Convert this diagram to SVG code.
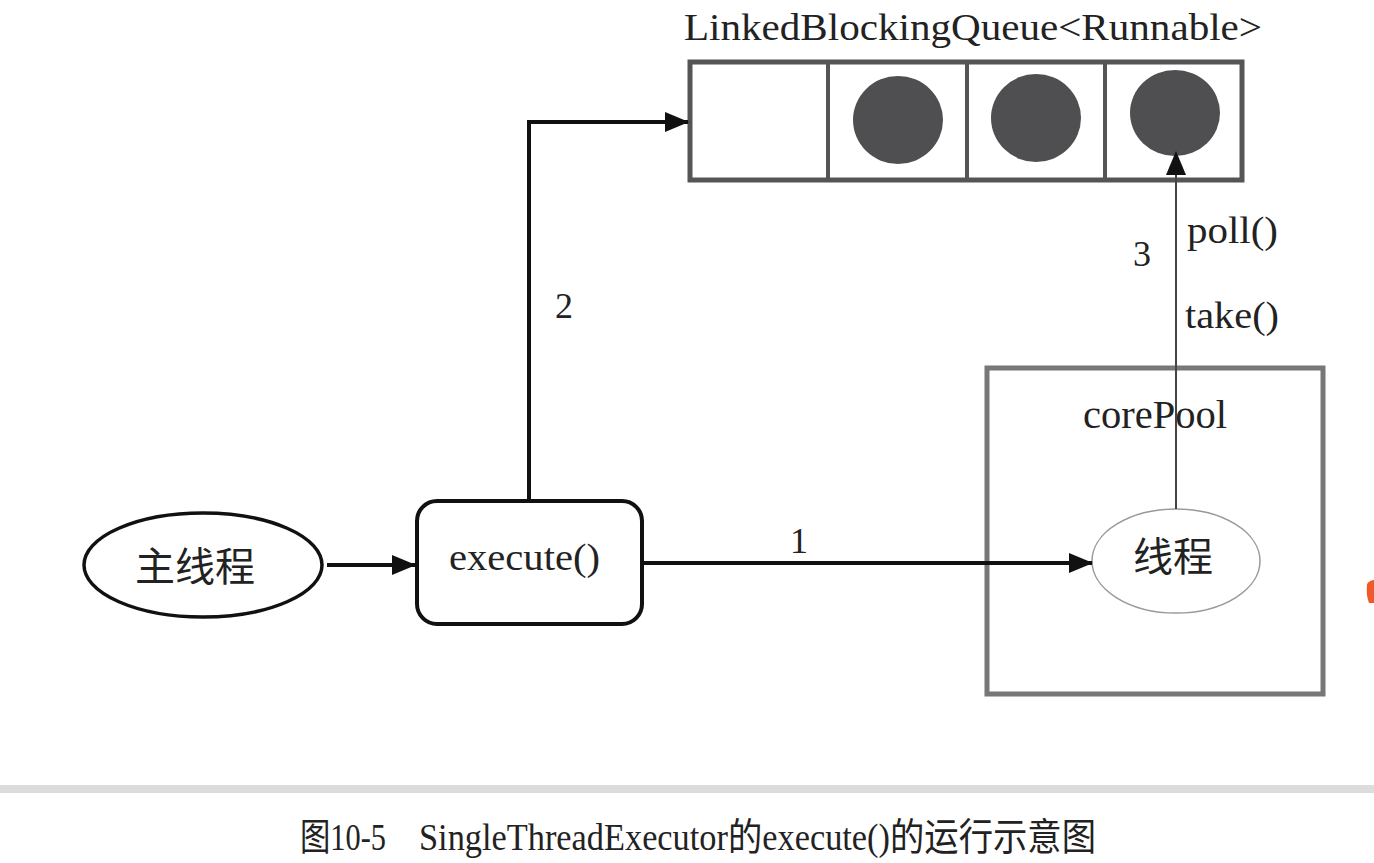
<svg xmlns="http://www.w3.org/2000/svg" width="1374" height="863" viewBox="0 0 1374 863">
<defs>
<style>
.t{font-family:"Liberation Serif","Noto Sans CJK SC",serif;fill:#222}
.conn{fill:none;stroke:#111;stroke-width:4}
</style>
<marker id="ahBig" viewBox="0 0 24 20" markerWidth="24" markerHeight="20" refX="23" refY="10" orient="auto" markerUnits="userSpaceOnUse">
<path d="M0,0 L24,10 L0,20 z" fill="#111"/>
</marker>
</defs>
<rect width="1374" height="863" fill="#fff"/>

<g id="queue">
<text class="t" x="684" y="40" font-size="37" textLength="578" lengthAdjust="spacingAndGlyphs">LinkedBlockingQueue&lt;Runnable&gt;</text>
<rect x="690" y="62" width="552" height="118" fill="#fff" stroke="#555" stroke-width="5"/>
<line x1="828" y1="62" x2="828" y2="180" stroke="#555" stroke-width="4"/>
<line x1="967" y1="62" x2="967" y2="180" stroke="#555" stroke-width="4"/>
<line x1="1105" y1="62" x2="1105" y2="180" stroke="#555" stroke-width="4"/>
<ellipse cx="898" cy="120" rx="45" ry="44" fill="#4f4f51"/>
<ellipse cx="1036" cy="118" rx="45" ry="44" fill="#4f4f51"/>
<ellipse cx="1175" cy="113" rx="45" ry="43" fill="#4f4f51"/>
</g>

<g id="mainThread">
<ellipse cx="203" cy="565" rx="119" ry="52" fill="#fff" stroke="#111" stroke-width="3.5"/>
<text class="t" x="195" y="581" font-size="40" text-anchor="middle">主线程</text>
</g>

<g id="execute">
<rect x="417" y="501" width="225" height="123" rx="20" fill="#fff" stroke="#111" stroke-width="4"/>
<text class="t" x="449" y="570" font-size="38" textLength="151" lengthAdjust="spacingAndGlyphs">execute()</text>
</g>

<g id="corePool">
<rect x="987" y="368" width="336" height="326" fill="none" stroke="#777" stroke-width="5"/>
<text class="t" x="1083" y="428" font-size="39" textLength="144" lengthAdjust="spacingAndGlyphs">corePool</text>
</g>

<g id="thread">
<ellipse cx="1176" cy="561" rx="84" ry="52" fill="#fff" stroke="#999" stroke-width="1.5"/>
<text class="t" x="1173" y="571" font-size="40" text-anchor="middle">线程</text>
</g>

<g id="connectors">
<line class="conn" x1="327" y1="565" x2="415" y2="565" marker-end="url(#ahBig)"/>
<polyline class="conn" points="529,501 529,122 688,122" marker-end="url(#ahBig)"/>
<line class="conn" x1="644" y1="563" x2="1092" y2="563" marker-end="url(#ahBig)"/>
<line x1="1176" y1="509" x2="1176" y2="152" stroke="#444" stroke-width="2" marker-end="url(#ahBig)"/>
<text class="t" x="799" y="553" font-size="36" text-anchor="middle">1</text>
<text class="t" x="564" y="318" font-size="36" text-anchor="middle">2</text>
<text class="t" x="1142" y="266" font-size="36" text-anchor="middle">3</text>
<text class="t" x="1187" y="243" font-size="38" textLength="91" lengthAdjust="spacingAndGlyphs">poll()</text>
<text class="t" x="1185" y="328" font-size="38" textLength="94" lengthAdjust="spacingAndGlyphs">take()</text>
</g>

<path d="M1367,584 Q1370,580 1374,580 L1374,603 L1369,603 Q1366,596 1367,584 z" fill="#f05a28"/>

<rect x="0" y="785" width="1374" height="8" fill="#dcdcdc"/>
<text class="t" y="850" font-size="38" fill="#111"><tspan x="300" textLength="86" lengthAdjust="spacingAndGlyphs">图10-5</tspan><tspan x="419" textLength="677" lengthAdjust="spacingAndGlyphs">SingleThreadExecutor的execute()的运行示意图</tspan></text>
</svg>
